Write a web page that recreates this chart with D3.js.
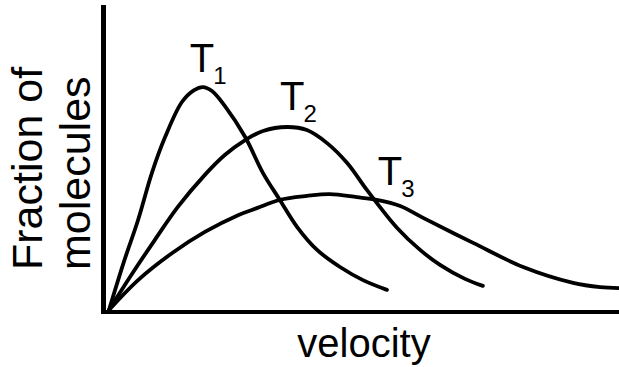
<!DOCTYPE html>
<html>
<head>
<meta charset="utf-8">
<script src="https://cdn.jsdelivr.net/npm/d3@7"></script>
<style>
  body { margin: 0; background: #fff; }
  text { font-family: Arial, "Liberation Sans", sans-serif; fill: #000; }
</style>
</head>
<body>
<svg id="chart"></svg>
<script>
// velocity (0-100) and fraction of molecules (0-100)
const t1Velocity = [0, 2.9, 5.7, 8.4, 11.0, 14.3, 16.7, 18.4, 20.2, 22.7, 26.7, 30.2, 33.5, 36.9, 40.8, 45.3, 49.8, 54.5];
const t1Fraction = [0, 15.7, 29.5, 44.9, 56.7, 68.2, 72.1, 73.1, 71.8, 66.9, 56.7, 44.9, 36.1, 27.2, 19.7, 14.1, 9.8, 6.6];

const t2Velocity = [0, 4.5, 9.0, 13.5, 18.8, 22.7, 26.7, 30.2, 34.9, 38.8, 42.7, 46.7, 50.6, 56.5, 61.0, 64.9, 69.8, 73.3];
const t2Fraction = [0, 11.8, 23.0, 33.8, 44.3, 50.8, 55.7, 58.7, 60.0, 59.0, 54.8, 48.2, 39.3, 26.9, 19.7, 14.8, 10.2, 7.9];

const t3Velocity = [0, 5.7, 12.4, 18.8, 25.3, 29.0, 33.5, 38.8, 43.3, 48.6, 52.5, 57.1, 61.6, 71.4, 81.2, 91.0, 96.3, 100];
const t3Fraction = [0, 9.8, 18.7, 25.6, 31.1, 33.4, 36.1, 37.4, 38.0, 37.0, 36.1, 34.1, 30.2, 22.0, 14.1, 8.9, 7.5, 7.2];

const seriesNames = ["T", "T", "T"];
const seriesSubs = ["1", "2", "3"];

const width = 619;
const height = 367;

const svg = d3.select("#chart").attr("width", width).attr("height", height);

const x = d3.scaleLinear().domain([0, 100]).range([109, 619]);
const y = d3.scaleLinear().domain([0, 100]).range([310, 5]);

// axes: plain lines, no ticks
svg.append("line")
    .attr("x1", 103.5).attr("x2", 103.5)
    .attr("y1", 5).attr("y2", 314)
    .attr("stroke", "#000").attr("stroke-width", 5);
svg.append("line")
    .attr("x1", 101).attr("x2", 619)
    .attr("y1", 312).attr("y2", 312)
    .attr("stroke", "#000").attr("stroke-width", 4);

const series = [
    d3.zip(t1Velocity, t1Fraction),
    d3.zip(t2Velocity, t2Fraction),
    d3.zip(t3Velocity, t3Fraction)
];

const line = d3.line()
    .x(function (d) { return x(d[0]); })
    .y(function (d) { return y(d[1]); })
    .curve(d3.curveCatmullRom.alpha(0.5));

svg.append("g").attr("class", "curves")
    .selectAll("path")
    .data(series)
    .enter()
    .append("path")
    .attr("fill", "none")
    .attr("stroke", "#000")
    .attr("stroke-width", 3.8)
    .attr("stroke-linecap", "round")
    .attr("d", line);

// label offsets from each curve's peak, in px
const labelOffsets = [[-13, -15], [-7, -17], [48, -9]];

const labels = svg.append("g").attr("class", "labels")
    .selectAll("text")
    .data(series)
    .enter()
    .append("text")
    .attr("font-size", 40)
    .attr("x", function (d, i) {
        const peak = d[d3.maxIndex(d, function (p) { return p[1]; })];
        return x(peak[0]) + labelOffsets[i][0];
    })
    .attr("y", function (d, i) {
        const peak = d[d3.maxIndex(d, function (p) { return p[1]; })];
        return y(peak[1]) + labelOffsets[i][1];
    });

labels.append("tspan").text(function (d, i) { return seriesNames[i]; });
labels.append("tspan")
    .attr("font-size", 24)
    .attr("dx", -1)
    .attr("dy", 12)
    .text(function (d, i) { return seriesSubs[i]; });

// axis titles
svg.append("text")
    .attr("font-size", 40)
    .attr("text-anchor", "middle")
    .attr("x", 364)
    .attr("y", 357)
    .text("velocity");

const yTitle = svg.append("text")
    .attr("font-size", 43)
    .attr("transform", "translate(0,270) rotate(-90)");
yTitle.append("tspan").attr("x", 0).attr("y", 42).text("Fraction of");
yTitle.append("tspan").attr("x", 0).attr("y", 90).text("molecules");
</script>
</body>
</html>
